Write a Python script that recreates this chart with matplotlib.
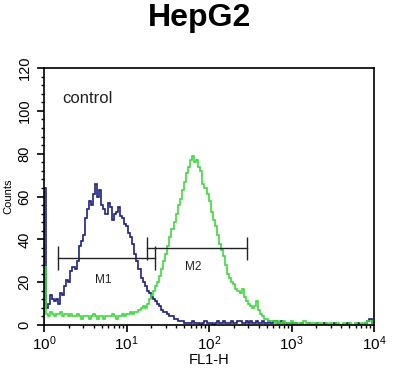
"""Flow cytometry histogram: HepG2 control vs stained."""

import matplotlib

matplotlib.use("Agg")
import matplotlib.pyplot as plt
import numpy as np
from matplotlib.ticker import LogLocator, MultipleLocator

plt.rcParams["font.family"] = ["Liberation Sans", "DejaVu Sans"]

# log10 bin edges: first narrow pile-up channel, then 0.025-decade bins
LOG_EDGES = np.concatenate([[0.0], 0.02 + 0.025 * np.arange(161)])

CONTROL_COUNTS = [
    64,
    8, 10, 14, 12, 11, 12, 10, 15, 14, 18,
    21, 20, 25, 27, 26, 30, 37, 39, 42, 50,
    54, 58, 56, 61, 66, 60, 63, 56, 54, 52,
    57, 55, 49, 52, 53, 55, 51, 50, 47, 46,
    43, 41, 38, 33, 30, 26, 22, 20, 18, 16,
    15, 13, 12, 11, 10, 9, 7, 6, 6, 5,
    4, 4, 3, 3, 2, 2, 2, 1, 1,
    1, 1, 2, 1, 1, 1, 0, 1, 2, 1,
    1, 1, 0, 1, 2, 1, 1, 2, 1, 1,
    1, 2, 1, 1, 2, 2, 1, 1, 2, 1,
    2, 1, 1, 2, 1, 1, 2, 1, 1, 2,
    1, 2, 2, 1, 1, 2, 1, 1, 0, 1,
    1, 0, 1, 0, 0, 1, 0, 0, 1, 0,
    0, 0, 1, 0, 0, 0, 1, 0, 0, 0,
    0, 1, 0, 0, 0, 0, 0, 1, 0, 0,
    0, 0, 1, 0, 0, 0, 1, 2, 3, 1, 0,
]

STAINED_COUNTS = [
    27,
    5, 4, 6, 5, 4, 5, 5, 6, 4, 5,
    5, 4, 5, 4, 4, 5, 4, 3, 4, 4,
    4, 3, 4, 5, 4, 3, 4, 4, 3, 4,
    4, 4, 5, 4, 3, 4, 4, 5, 4, 5,
    5, 6, 5, 6, 6, 7, 8, 9, 8, 10,
    12, 14, 16, 18, 20, 23, 26, 30, 33, 37,
    41, 45, 48, 52, 56, 59, 63, 67, 71, 74,
    77, 79, 76, 77, 74, 72, 66, 64, 61, 58,
    53, 49, 46, 42, 38, 35, 32, 28, 24, 22,
    20, 19, 17, 16, 15, 17, 13, 11, 10, 9,
    8, 9, 11, 7, 5, 4, 3, 3, 2, 2,
    2, 1, 2, 1, 1, 2, 1, 1, 1, 2,
    1, 1, 0, 1, 1, 2, 1, 0, 1, 1,
    1, 0, 1, 1, 0, 0, 1, 0, 1, 0,
    0, 1, 0, 0, 1, 0, 0, 1, 0, 0,
    1, 0, 0, 1, 0, 1, 2, 2, 1, 0,
]

# gates: (name, x start, x end, bar height, label x, label y)
GATES = [
    ("M1", 1.49, 22.1, 31.4, 5.2, 21),
    ("M2", 17.6, 286, 35.8, 64, 27),
]
GATE_TICK = 5.5

BLUE = "#202080"
GREEN = "#3fd83f"


def main():
    fig = plt.figure(figsize=(4.0, 3.83), dpi=100)
    ax = fig.add_axes([0.11, 0.1514, 0.825, 0.671])

    edges = 10 ** LOG_EDGES
    ax.stairs(CONTROL_COUNTS, edges, color=BLUE, linewidth=1.2, baseline=0)
    ax.stairs(STAINED_COUNTS, edges, color=GREEN, linewidth=1.2, baseline=0)

    for name, x0, x1, y, lx, ly in GATES:
        ax.plot([x0, x1], [y, y], color="#222222", linewidth=1.0)
        ax.vlines([x0, x1], y - GATE_TICK, y + GATE_TICK, color="#222222", linewidth=1.0)
        ax.text(lx, ly, name, fontsize=8.5, ha="center", va="center", color="#222222")

    ax.text(1.65, 106, "control", fontsize=12, ha="left", va="center", color="#222222")

    ax.set_xscale("log")
    ax.set_xlim(1, 1e4)
    ax.set_ylim(0, 120)
    ax.yaxis.set_major_locator(MultipleLocator(20))
    ax.yaxis.set_minor_locator(MultipleLocator(4))
    ax.xaxis.set_major_locator(LogLocator(base=10))
    ax.xaxis.set_minor_locator(LogLocator(base=10, subs=np.arange(2, 10)))

    ax.tick_params(which="major", length=5, width=1.2, labelsize=11, pad=1.5)
    ax.tick_params(which="minor", length=2.5, width=1.0)
    ax.tick_params(axis="y", which="major", pad=4, labelsize=10.5)
    for label in ax.get_yticklabels():
        label.set_rotation(90)
        label.set_va("center")

    for spine in ax.spines.values():
        spine.set_linewidth(1.2)

    ax.set_xlabel("FL1-H", fontsize=10.5, labelpad=0)
    ax.set_ylabel("Counts", fontsize=8, labelpad=3)

    fig.text(0.5, 0.954, "HepG2", fontsize=23, fontweight="bold", ha="center", va="center")

    fig.savefig("out.png", dpi=100)


if __name__ == "__main__":
    main()
